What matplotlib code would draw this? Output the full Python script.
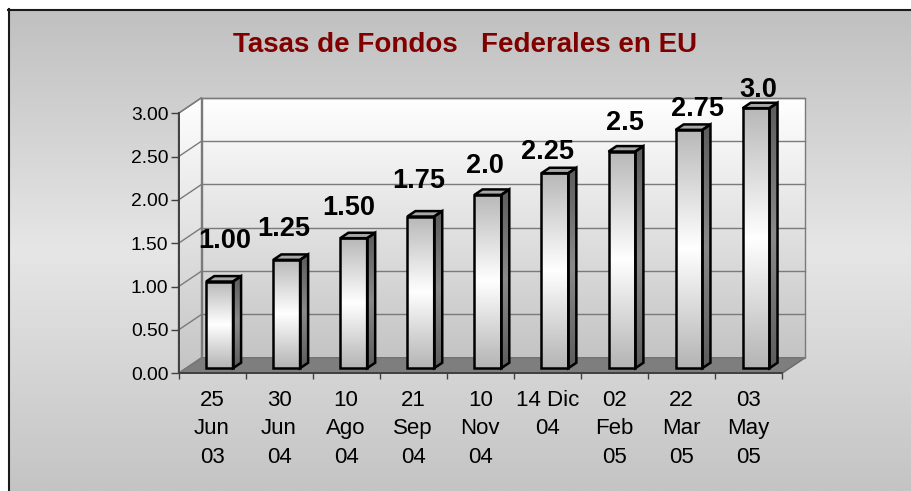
import numpy as np
import matplotlib
matplotlib.use("Agg")
import matplotlib.pyplot as plt
from matplotlib.colors import LinearSegmentedColormap
from matplotlib.patches import Polygon
from matplotlib.lines import Line2D

# ---------------- data ----------------
categories = ["25\nJun\n03", "30\nJun\n04", "10\nAgo\n04", "21\nSep\n04", "10\nNov\n04",
              "14 Dic\n04", "02\nFeb\n05", "22\nMar\n05", "03\nMay\n05"]
rates = [1.00, 1.25, 1.50, 1.75, 2.0, 2.25, 2.5, 2.75, 3.0]
rate_labels = ["1.00", "1.25", "1.50", "1.75", "2.0", "2.25", "2.5", "2.75", "3.0"]
y_ticks = [0.0, 0.5, 1.0, 1.5, 2.0, 2.5, 3.0]
title = "Tasas de Fondos   Federales en EU"

# ---------------- style ----------------
label_nudge_x = [5, -3, -5, -2, -3, -7, 3, 8, 2]      # pixels
label_gap_y = [28, 18, 18, 23, 16, 9, 16, 8, 6]        # pixels above bar top

plt.rcParams['font.family'] = ['Liberation Sans', 'DejaVu Sans']

W, H = 911, 491
fig = plt.figure(figsize=(W / 100, H / 100), dpi=100, facecolor='white')

# background of chart area (gradient) + frame
bg = fig.add_axes([8 / W, 0, 1 - 8 / W, 1 - 9 / H], zorder=-10)
bg_cmap = LinearSegmentedColormap.from_list('bg', ['#c0c0c0', '#e6e6e6', '#c4c4c4'])
bg.imshow(np.linspace(0, 1, 256).reshape(-1, 1), cmap=bg_cmap, aspect='auto',
          extent=[0, 1, 0, 1], origin='upper', interpolation='bilinear')
bg.set_axis_off()
fig.add_artist(Line2D([8.5 / W, 8.5 / W], [0, 1 - 9 / H], color='#1a1a1a', lw=1.5))
fig.add_artist(Line2D([8 / W, 1], [1 - 9.5 / H, 1 - 9.5 / H], color='#1a1a1a', lw=1.5))

# main axes: front plane of the 3D box
x_left, x_right = 178.5, 782.0
y_bottom, y_top = 373.3, 113.3
ax = fig.add_axes([x_left / W, (H - y_bottom) / H, (x_right - x_left) / W, (y_bottom - y_top) / H])
ax.patch.set_visible(False)
n = len(rates)
ax.set_xlim(0, n)
ax.set_ylim(0, 3)

DX = 23.0 / ((x_right - x_left) / n)      # depth offset in category units
DY = 15.5 / ((y_bottom - y_top) / 3.0)    # depth offset in value units
D0, D1 = 0.33, 0.68                       # bar depth range (fraction of depth)
BW = 0.4                                   # bar width (category units)

wall_cmap = LinearSegmentedColormap.from_list('wall', ['#ffffff', '#c4c4c4'])
front_cmap = LinearSegmentedColormap.from_list('front', ['#b8b8b8', '#ffffff', '#b4b4b4'])
side_cmap = LinearSegmentedColormap.from_list('side', ['#5c5c5c', '#8a8a8a', '#5c5c5c'])
grad = np.linspace(0, 1, 256).reshape(-1, 1)


def gradient_fill(verts, cmap, zorder):
    verts = np.asarray(verts)
    poly = Polygon(verts, closed=True, transform=ax.transData)
    ext = [verts[:, 0].min(), verts[:, 0].max(), verts[:, 1].min(), verts[:, 1].max()]
    im = ax.imshow(grad, cmap=cmap, extent=ext, aspect='auto', origin='upper',
                   interpolation='bilinear', zorder=zorder)
    im.set_clip_path(poly)
    im.set_clip_box(fig.bbox)
    return im


def outline(verts, color, lw, zorder, face='none'):
    p = Polygon(verts, closed=True, facecolor=face, edgecolor=color, lw=lw,
                zorder=zorder, clip_on=False, joinstyle='miter')
    ax.add_patch(p)
    return p


ymax = y_ticks[-1]
# back wall
back = [(DX, DY), (n + DX, DY), (n + DX, ymax + DY), (DX, ymax + DY)]
gradient_fill(back, wall_cmap, 0.5)
# left wall
left = [(0, 0), (DX, DY), (DX, ymax + DY), (0, ymax)]
gradient_fill(left, wall_cmap, 0.5)
# floor
floor = [(0, 0), (n, 0), (n + DX, DY), (DX, DY)]
outline(floor, '#6a6a6a', 1.0, 0.8, face='#7e7e7e')

# gridlines on walls
for t in y_ticks[1:]:
    ax.plot([DX, n + DX], [t + DY, t + DY], color='#7a7a7a', lw=1.0, zorder=0.9, clip_on=False)
    ax.plot([0, DX], [t, t + DY], color='#7a7a7a', lw=1.0, zorder=0.9, clip_on=False)
outline(back, '#7a7a7a', 1.0, 0.9)
outline(left, '#7a7a7a', 1.0, 0.9)

# bars
for i, v in enumerate(rates):
    x0 = i + 0.5 - BW / 2 + D0 * DX
    x1 = x0 + BW
    b0 = D0 * DY
    t0 = v + D0 * DY
    ddx = (D1 - D0) * DX
    ddy = (D1 - D0) * DY
    front = [(x0, b0), (x1, b0), (x1, t0), (x0, t0)]
    side = [(x1, b0), (x1 + ddx, b0 + ddy), (x1 + ddx, t0 + ddy), (x1, t0)]
    top = [(x0, t0), (x1, t0), (x1 + ddx, t0 + ddy), (x0 + ddx, t0 + ddy)]
    gradient_fill(front, front_cmap, 3)
    gradient_fill(side, side_cmap, 3)
    outline(top, 'black', 1.8, 3.5, face='#a8a8a8')
    outline(side, 'black', 1.8, 3.5)
    outline(front, 'black', 1.8, 3.6)
    ax.annotate(rate_labels[i], xy=(i + 0.5 + D0 * DX, v + D1 * DY),
                xytext=(label_nudge_x[i], label_gap_y[i]), textcoords='offset pixels',
                ha='center', va='baseline', fontsize=19.5, fontweight='bold',
                color='black', zorder=5, annotation_clip=False)

# axes, ticks
for s in ['top', 'right']:
    ax.spines[s].set_visible(False)
for s in ['left', 'bottom']:
    ax.spines[s].set_color('#404040')
    ax.spines[s].set_linewidth(1.4)
ax.set_yticks(y_ticks)
ax.set_yticklabels([f"{t:.2f}" for t in y_ticks])
ax.tick_params(axis='y', direction='out', length=5.8, width=1.0, color='#404040',
               pad=1.5, labelsize=13.9, labelcolor='black')
ax.set_xticks(np.arange(n + 1))
ax.set_xticklabels([])
ax.set_xticks(np.arange(n) + 0.5, minor=True)
ax.set_xticklabels(categories, minor=True)
ax.tick_params(axis='x', which='major', direction='out', length=4.3, width=1.0, color='#404040')
ax.tick_params(axis='x', which='minor', length=0, pad=12, labelsize=16, labelcolor='black')
for t in ax.get_xticklabels(minor=True):
    t.set_linespacing(1.47)

ax.set_xlim(0, n)
ax.set_ylim(0, 3)

fig.text(465 / W, 1 - 52 / H, title, ha='center', va='baseline', fontsize=20,
         fontweight='bold', color='#800000')

fig.savefig('out.png', dpi=100, facecolor='white')
